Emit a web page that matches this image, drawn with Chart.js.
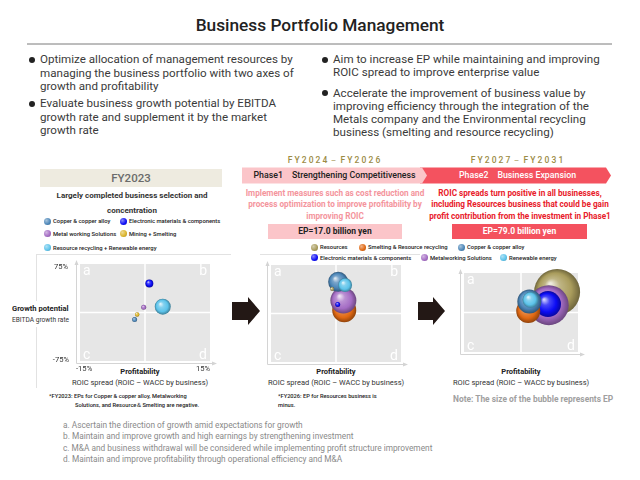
<!DOCTYPE html>
<html>
<head>
<meta charset="utf-8">
<script src="https://cdn.jsdelivr.net/npm/chart.js@4.4.0/dist/chart.umd.min.js"></script>
<style>
    html, body { margin: 0; padding: 0; background: #fff; }
    #page { position: relative; width: 640px; height: 480px; overflow: hidden; font-family: Roboto, "Noto Sans", sans-serif; color: #333; }
    .t { position: absolute; white-space: nowrap; }
    .c { text-align: center; }
    .dot { position: absolute; width: 6px; height: 6px; border-radius: 50%; background: #222; }
    .leg { position: absolute; font-size: 5.85px; font-weight: 500; color: #222; white-space: nowrap; line-height: 8px; }
    .leg i { position: absolute; width: 7px; height: 7px; border-radius: 50%; left: -9px; top: 0.5px; }
    canvas { position: absolute; }
</style>
</head>
<body>
<div id="page">
    <svg width="640" height="480" style="position:absolute;left:0;top:0">
        <line x1="27" y1="44" x2="612" y2="44" stroke="#7a7a7a" stroke-width="1"/>
        <rect x="40" y="169" width="182" height="18" fill="#eeebe0"/>
        <polygon points="420,167.5 606,167.5 611,175.5 606,183.5 420,183.5" fill="#f4525f"/>
        <polygon points="242,167.5 422,167.5 427,175.5 422,183.5 242,183.5" fill="#fbc5c9"/>
        <rect x="268" y="224" width="134" height="15" fill="#fbc5c9"/>
        <rect x="452" y="224" width="135" height="15" fill="#f4525f"/>
        <g stroke="#e2e2e2" stroke-width="1">
            <line x1="36" y1="254.5" x2="231" y2="254.5"/>
            <line x1="36.5" y1="254" x2="36.5" y2="301"/>
            <line x1="36.5" y1="327" x2="36.5" y2="388"/>
            <line x1="260" y1="254.5" x2="420" y2="254.5"/>
        </g>
        <polygon points="232,302 248,302 248,297 260,311 248,325 248,320 232,320" fill="#231815"/>
        <polygon points="418,302 433,302 433,297 445,311 433,325 433,320 418,320" fill="#231815"/>
    </svg>

    <div class="t c" style="left:0;width:640px;top:14px;line-height:22px;font-size:17.3px;font-weight:500;color:#222">Business Portfolio Management</div>

    <div class="dot" style="left:29px;top:57px"></div>
    <div class="t" style="left:40px;top:53px;line-height:13.5px;font-size:11.6px;color:#3a3a3a">Optimize allocation of management resources by<br>managing the business portfolio with two axes of<br>growth and profitability</div>
    <div class="dot" style="left:29px;top:101px"></div>
    <div class="t" style="left:40px;top:97px;line-height:13.5px;font-size:11.6px;color:#3a3a3a">Evaluate business growth potential by EBITDA<br>growth rate and supplement it by the market<br>growth rate</div>
    <div class="dot" style="left:322px;top:57px"></div>
    <div class="t" style="left:333px;top:53px;line-height:13.3px;font-size:11.6px;color:#3a3a3a">Aim to increase EP while maintaining and improving<br>ROIC spread to improve enterprise value</div>
    <div class="dot" style="left:322px;top:90px"></div>
    <div class="t" style="left:333px;top:86.5px;line-height:13.3px;font-size:11.6px;color:#3a3a3a">Accelerate the improvement of business value by<br>improving efficiency through the integration of the<br>Metals company and the Environmental recycling<br>business (smelting and resource recycling)</div>

    <div class="t c" style="left:235px;width:200px;top:155px;line-height:11px;font-size:8.5px;font-weight:500;letter-spacing:2.1px;color:#9b8b45">FY2024－FY2026</div>
    <div class="t c" style="left:418px;width:200px;top:155px;line-height:11px;font-size:8.5px;font-weight:500;letter-spacing:2.1px;color:#9b8b45">FY2027－FY2031</div>

    <div class="t c" style="left:40px;width:182px;top:170px;line-height:16px;font-size:11.5px;font-weight:500;color:#6b6b6b">FY2023</div>
    <div class="t c" style="left:32px;width:200px;top:188px;line-height:15px;font-size:8px;font-weight:700;color:#333">Largely completed business selection and<br>concentration</div>

    <div class="t c" style="left:242px;width:185px;top:169px;line-height:13px;font-size:8.8px;font-weight:500;color:#222">Phase1　Strengthening Competitiveness</div>
    <div class="t c" style="left:420px;width:195px;top:169px;line-height:13px;font-size:8.8px;font-weight:500;color:#fff">Phase2　Business Expansion</div>

    <div class="t c" style="left:235px;width:200px;top:187.5px;line-height:11.7px;font-size:8.2px;font-weight:700;color:#f4949c">Implement measures such as cost reduction and<br>process optimization to improve profitability by<br>improving ROIC</div>
    <div class="t c" style="left:420px;width:200px;top:187.5px;line-height:11.7px;font-size:8.2px;font-weight:700;color:#e8202a">ROIC spreads turn positive in all businesses,<br>including Resources business that could be gain<br>profit contribution from the investment in Phase1</div>

    <div class="t c" style="left:268px;width:134px;top:225px;line-height:13px;font-size:8.5px;font-weight:700;color:#222">EP=17.0 billion yen</div>
    <div class="t c" style="left:452px;width:135px;top:225px;line-height:13px;font-size:8.5px;font-weight:700;color:#fff">EP=79.0 billion yen</div>

    <div id="legend1"></div>
    <div id="legend2"></div>

    <div class="t" style="left:12px;top:303px;line-height:11px;font-size:7.6px;font-weight:700;color:#222">Growth potential</div>
    <div class="t" style="left:12px;top:316px;line-height:9px;font-size:6.6px;color:#333">EBITDA growth rate</div>

    <div class="t c" style="left:40px;width:200px;top:367px;line-height:10px;font-size:7.5px;font-weight:700;color:#222">Profitability</div>
    <div class="t c" style="left:40px;width:200px;top:378px;line-height:10px;font-size:7.5px;color:#333">ROIC spread (ROIC – WACC by business)</div>
    <div class="t c" style="left:236px;width:200px;top:367px;line-height:10px;font-size:7.5px;font-weight:700;color:#222">Profitability</div>
    <div class="t c" style="left:236px;width:200px;top:378px;line-height:10px;font-size:7.5px;color:#333">ROIC spread (ROIC – WACC by business)</div>
    <div class="t c" style="left:421px;width:200px;top:367px;line-height:10px;font-size:7.5px;font-weight:700;color:#222">Profitability</div>
    <div class="t c" style="left:421px;width:200px;top:378px;line-height:10px;font-size:7.5px;color:#333">ROIC spread (ROIC – WACC by business)</div>

    <div class="t" style="left:49px;top:392px;line-height:8.6px;font-size:5.7px;font-weight:500;color:#222">*FY2023: EPs for Copper &amp; copper alloy, Metalworking<br><span style="padding-left:26px">Solutions, and Resource＆Smelting are negative.</span></div>
    <div class="t" style="left:278px;top:392px;line-height:8.6px;font-size:5.7px;font-weight:500;color:#222">*FY2026: EP for Resources business is<br>minus.</div>
    <div class="t" style="left:453px;top:394px;line-height:11px;font-size:8.4px;font-weight:700;color:#a0a0a0">Note: The size of the bubble represents EP</div>

    <div class="t" style="left:63px;top:419.5px;line-height:11.5px;font-size:8.3px;color:#8a8a8a">a. Ascertain the direction of growth amid expectations for growth<br>b. Maintain and improve growth and high earnings by strengthening investment<br>c. M&amp;A and business withdrawal will be considered while implementing profit structure improvement<br>d. Maintain and improve profitability through operational efficiency and M&amp;A</div>

    <canvas id="chart2023" width="235" height="135" style="left:0;top:250px"></canvas>
    <canvas id="chart2026" width="160" height="125" style="left:255px;top:250px"></canvas>
    <canvas id="chart2031" width="160" height="125" style="left:441px;top:250px"></canvas>
</div>

<script>
// Axis ranges and tick labels (ROIC spread in %, EBITDA growth in %)
const roicRange = [-15, 15];
const growthRange = [-75, 75];
const roicTickLabels = ['-15%', '15%'];
const growthTickLabels = ['75%', '-75%'];
const quadrantLetters = ['a', 'b', 'c', 'd'];

// FY2023
const fy2023Business = ['Copper & copper alloy', 'Electronic materials & components', 'Metal working Solutions', 'Mining + Smelting', 'Resource recycling + Renewable energy'];
const fy2023Roic = [-2.4, 1.0, -0.3, -1.8, 4.1];
const fy2023Growth = [-11, 45, 8, -3, 9];
const fy2023Bubble = [2.5, 4, 2.5, 2.2, 8];

// FY2026 (Phase1)
const fy2026Business = ['Resources', 'Smelting & Resource recycling', 'Copper & copper alloy', 'Electronic materials & components', 'Metalworking Solutions', 'Renewable energy'];
const fy2026Roic = [-0.9, 1.9, 0.5, 0.4, 1.7, 2.1];
const fy2026Growth = [38, 5, 49, 14, 20, 44];
const fy2026Bubble = [2, 12, 10, 2.5, 13, 7];

// FY2031 (Phase2)
const fy2031Business = ['Resources', 'Smelting & Resource recycling', 'Copper & copper alloy', 'Electronic materials & components', 'Metalworking Solutions', 'Renewable energy'];
const fy2031Roic = [9.5, 1.9, 2.2, 7.1, 7.3, 2.5];
const fy2031Growth = [39, 3, 21, 16, 14, 24];
const fy2031Bubble = [23, 12, 12, 13, 20, 8];

// back-to-front drawing order (indexes into the arrays above)
const fy2023Order = [4, 0, 1, 2, 3];
const fy2026Order = [1, 4, 2, 5, 3, 0];
const fy2031Order = [0, 4, 3, 1, 2, 5];

const businessColors = {
    'Copper & copper alloy': '#4c86b8',
    'Electronic materials & components': '#0b0bf5',
    'Metal working Solutions': '#a46cc4',
    'Metalworking Solutions': '#a46cc4',
    'Mining + Smelting': '#dcb52a',
    'Resource recycling + Renewable energy': '#5cc3ea',
    'Resources': '#a99c5c',
    'Smelting & Resource recycling': '#e06812',
    'Renewable energy': '#5cc3ea'
};

function mix(hex, other, t) {
    const a = parseInt(hex.slice(1), 16), b = parseInt(other.slice(1), 16);
    const ch = (v, s) => (v >> s) & 255;
    const m = s => Math.round(ch(a, s) * (1 - t) + ch(b, s) * t);
    return 'rgb(' + m(16) + ',' + m(8) + ',' + m(0) + ')';
}

function sphereFill(c, base) {
    const chart = c.chart;
    if (!chart.chartArea || !c.raw) return base;
    const x = chart.scales.x.getPixelForValue(c.raw.x);
    const y = chart.scales.y.getPixelForValue(c.raw.y);
    const r = c.raw.r;
    const g = chart.ctx.createRadialGradient(x - r * 0.3, y - r * 0.35, r * 0.05, x, y, r);
    g.addColorStop(0, mix(base, '#ffffff', 0.8));
    g.addColorStop(0.3, mix(base, '#ffffff', 0.25));
    g.addColorStop(0.7, base);
    g.addColorStop(1, mix(base, '#000000', 0.35));
    return g;
}

// grey quadrant background, white centre lines, letters, axis arrows, ticks
const quadrantPlugin = {
    id: 'quadrant',
    beforeDatasetsDraw(chart, args, opts) {
        const { ctx, chartArea: a, scales } = chart;
        ctx.save();
        ctx.fillStyle = '#e6e6e6';
        ctx.fillRect(a.left, a.top, a.right - a.left, a.bottom - a.top);

        const x0 = scales.x.getPixelForValue(0);
        const y0 = scales.y.getPixelForValue(0);
        ctx.strokeStyle = '#fff';
        ctx.lineWidth = 1.5;
        ctx.beginPath();
        ctx.moveTo(x0, a.top); ctx.lineTo(x0, a.bottom);
        ctx.moveTo(a.left, y0); ctx.lineTo(a.right, y0);
        ctx.stroke();

        ctx.fillStyle = '#fff';
        ctx.font = '14px Roboto';
        ctx.textBaseline = 'top';
        ctx.textAlign = 'left';  ctx.fillText(quadrantLetters[0], a.left + 3, a.top);
        ctx.textAlign = 'right'; ctx.fillText(quadrantLetters[1], a.right - 3, a.top);
        ctx.textBaseline = 'bottom';
        ctx.textAlign = 'left';  ctx.fillText(quadrantLetters[2], a.left + 3, a.bottom + 1);
        ctx.textAlign = 'right'; ctx.fillText(quadrantLetters[3], a.right - 3, a.bottom + 1);

        // axis arrows
        ctx.strokeStyle = '#d4d4d4';
        ctx.fillStyle = '#d4d4d4';
        ctx.lineWidth = 1;
        const ax = a.left - 3.5, ay = a.bottom + 2.5;
        ctx.beginPath();
        ctx.moveTo(ax, ay); ctx.lineTo(ax, a.top - 1);
        ctx.moveTo(ax, ay); ctx.lineTo(a.right + 4, ay);
        ctx.stroke();
        ctx.beginPath();
        ctx.moveTo(ax, a.top - 4); ctx.lineTo(ax - 2, a.top + 1); ctx.lineTo(ax + 2, a.top + 1); ctx.closePath();
        ctx.moveTo(a.right + 7, ay); ctx.lineTo(a.right + 2, ay - 2); ctx.lineTo(a.right + 2, ay + 2); ctx.closePath();
        ctx.fill();

        if (opts.ticks) {
            ctx.fillStyle = '#333';
            ctx.font = '7.6px Roboto';
            ctx.textBaseline = 'middle';
            ctx.textAlign = 'right';
            ctx.fillText(growthTickLabels[0], a.left - 12, scales.y.getPixelForValue(growthRange[1]) + 3);
            ctx.fillText(growthTickLabels[1], a.left - 11, scales.y.getPixelForValue(growthRange[0]) - 1);
            ctx.textAlign = 'left';
            ctx.fillText(roicTickLabels[0], scales.x.getPixelForValue(roicRange[0]) - 4, a.bottom + 8);
            ctx.textAlign = 'right';
            ctx.fillText(roicTickLabels[1], scales.x.getPixelForValue(roicRange[1]), a.bottom + 8);
        }
        ctx.restore();
    }
};

function initBubbleChart(id, business, roic, growth, bubble, order, padding, showTicks) {
    const ctx = document.getElementById(id);
    if (!ctx) return;
    const base = order.map(i => businessColors[business[i]]);

    return new Chart(ctx, {
        type: 'bubble',
        data: {
            datasets: [{
                data: order.map(i => ({ x: roic[i], y: growth[i], r: bubble[i] })),
                backgroundColor: c => sphereFill(c, base[c.dataIndex]),
                borderWidth: 0,
                hoverBorderWidth: 0,
                clip: false
            }]
        },
        options: {
            responsive: false,
            animation: false,
            events: [],
            layout: { padding: padding },
            scales: {
                x: { display: false, min: roicRange[0], max: roicRange[1] },
                y: { display: false, min: growthRange[0], max: growthRange[1] }
            },
            plugins: {
                legend: { display: false },
                tooltip: { enabled: false },
                quadrant: { ticks: showTicks }
            }
        },
        plugins: [quadrantPlugin]
    });
}

// HTML legends built from the category lists
function buildLegend(el, business, slots) {
    const box = document.getElementById(el);
    business.forEach((name, i) => {
        const col = businessColors[name];
        const item = document.createElement('div');
        item.className = 'leg';
        item.style.left = slots[i][0] + 'px';
        item.style.top = slots[i][1] + 'px';
        item.innerHTML = '<i style="background:radial-gradient(circle at 35% 35%, ' + mix(col, '#ffffff', 0.5) + ', ' + col + ' 60%, ' + mix(col, '#000000', 0.3) + ')"></i>';
        item.appendChild(document.createTextNode(name));
        box.appendChild(item);
    });
}

document.addEventListener('DOMContentLoaded', function() {
    buildLegend('legend1', fy2023Business, [[53, 217], [129, 217], [53, 229.5], [129, 229.5], [53, 243.5]]);
    buildLegend('legend2', fy2026Business, [[320, 243], [368, 243], [467, 243], [320, 253.5], [430, 253.5], [509, 253.5]]);

    initBubbleChart('chart2023', fy2023Business, fy2023Roic, fy2023Growth, fy2023Bubble, fy2023Order,
        { left: 80, top: 14, right: 25, bottom: 24 }, true);
    initBubbleChart('chart2026', fy2026Business, fy2026Roic, fy2026Growth, fy2026Bubble, fy2026Order,
        { left: 16, top: 15, right: 14, bottom: 13 }, false);
    initBubbleChart('chart2031', fy2031Business, fy2031Roic, fy2031Growth, fy2031Bubble, fy2031Order,
        { left: 16, top: 15, right: 14, bottom: 13 }, false);
});
</script>
</body>
</html>
